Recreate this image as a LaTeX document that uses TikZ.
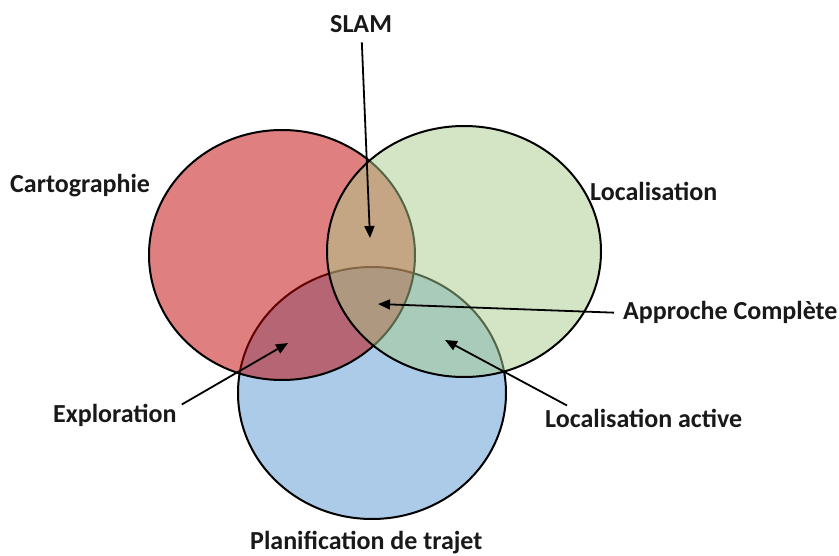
\documentclass[tikz,border=0pt]{standalone}
\usepackage{fontspec}
\setmainfont{Carlito}
\usetikzlibrary{arrows.meta}
\definecolor{redF}{RGB}{192,0,0}
\definecolor{greenF}{RGB}{168,204,138}
\definecolor{blueF}{RGB}{171,203,233}
\tikzset{
  setshape/.style={line width=2pt, draw=black},
  lbl/.style={font=\fontsize{26}{30}\selectfont\bfseries, inner sep=2pt, text=black!90},
  arr/.style={line width=1.8pt, -{Triangle[length=12pt,width=10pt]}}
}
\begin{document}
\begin{tikzpicture}[x=1pt,y=-1pt]
\useasboundingbox (0,0) rectangle (839,556);
% sets
\path[setshape, fill=blueF] (372,393) ellipse [x radius=134, y radius=126];
\path[setshape, fill=redF, fill opacity=0.5] (282,255) ellipse [x radius=133, y radius=125];
\path[setshape, fill=greenF, fill opacity=0.5] (464,251.5) ellipse [x radius=137, y radius=125.5];
% labels
\node[lbl, anchor=base west] (carto) at (8,193) {Cartographie};
\node[lbl, anchor=base west] (loc) at (588,201) {Localisation};
\node[lbl, anchor=base west] (slam) at (328,33) {SLAM};
\node[lbl, anchor=base west] (approche) at (621,320) {Approche Complète};
\node[lbl, anchor=base west] (locact) at (543,428) {Localisation active};
\node[lbl, anchor=base west] (explo) at (51,422) {Exploration};
\node[lbl, anchor=base west] (plan) at (248,549) {Planification de trajet};
% arrow tips
\coordinate (slamtip) at (370,238);
\coordinate (apptip) at (378,304);
\coordinate (locacttip) at (445,340);
\coordinate (explotip) at (288,343);
% connectors
\draw[arr, shorten <=7pt] (slam) -- (slamtip);
\draw[arr, shorten <=7pt] (approche.west) -- (apptip);
\draw[arr] ([xshift=24pt,yshift=2pt]locact.north west) -- (locacttip);
\draw[arr] ([xshift=3pt,yshift=-3pt]explo.north east) -- (explotip);
\end{tikzpicture}
\end{document}
